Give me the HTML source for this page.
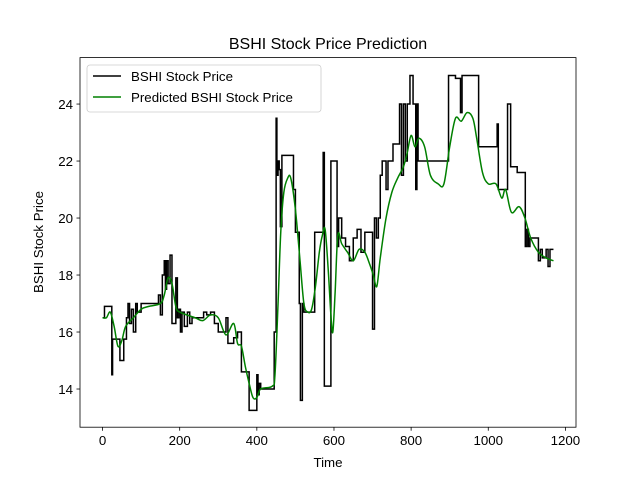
<!DOCTYPE html>
<html><head><meta charset="utf-8">
<style>
html,body{margin:0;padding:0;background:#fff;}
svg{display:block;font-family:"Liberation Sans","DejaVu Sans",sans-serif;}
</style></head>
<body>
<svg id="chart" width="640" height="480" viewBox="0 0 640 480" style="position:absolute;left:0;top:0">
<rect width="640" height="480" fill="#fff"/>
<g id="plot"></g>
</svg>
<script>
const actualTimes=[0,5,24,26,28,45,55,62,66,70,75,80,86,90,100,140,145,150,155,160,163,166,170,175,180,190,194,198,202,206,212,220,226,232,250,262,270,280,290,300,310,320,325,340,350,360,380,400,403,406,410,440,445,450,452,455,458,461,465,490,495,500,510,513,518,522,550,572,575,592,608,612,620,630,640,650,660,670,680,700,705,710,715,720,725,735,740,753,770,775,780,785,790,797,805,812,815,818,840,897,915,928,932,940,975,1023,1026,1050,1058,1075,1096,1100,1104,1108,1110,1130,1135,1140,1150,1155,1160,1169];
const actualValues=[16.5,16.9,14.5,15.75,15.75,15.0,15.75,16.5,17.0,16.3,16.8,16.0,17.0,16.7,17.0,17.0,17.3,16.6,18.0,18.5,17.5,18.5,17.7,18.7,16.3,17.9,16.5,16.8,16.0,16.7,16.2,16.7,16.3,16.5,16.5,16.7,16.6,16.7,16.3,16.0,16.0,16.5,15.6,15.8,16.0,14.6,13.25,14.5,13.8,14.2,14.0,14.0,16.0,23.5,21.5,22.0,21.7,19.7,22.2,22.2,21.0,19.5,17.0,13.6,17.0,16.7,19.5,22.3,14.1,22.0,19.0,20.0,19.3,19.0,18.5,19.3,19.6,18.8,19.5,16.1,20.0,19.3,20.0,21.5,22.0,21.0,22.0,22.6,24.0,21.5,24.0,22.0,24.0,25.0,24.0,21.0,24.0,22.0,22.0,25.0,24.9,23.7,25.0,25.0,22.5,23.3,21.0,24.0,21.8,21.6,19.0,19.6,19.0,19.3,19.3,18.5,18.9,18.6,18.9,18.3,18.9,18.9];
const predTimes=[0,10,20,30,40,50,60,80,100,120,150,160,170,180,190,200,240,260,280,300,320,340,350,360,370,380,390,400,410,440,447,455,462,470,480,488,500,512,522,532,542,552,562,570,577,585,592,597,603,610,620,635,650,665,680,692,702,711,720,735,750,765,780,790,800,810,820,835,850,870,885,900,915,930,945,960,970,985,1000,1020,1035,1045,1060,1080,1095,1110,1130,1150,1169];
const predValues=[16.5,16.5,16.7,16.2,15.5,15.7,16.2,16.5,16.8,16.9,17.0,17.3,17.9,17.7,16.9,16.7,16.5,16.4,16.6,16.5,15.9,16.3,15.6,15.5,14.8,14.2,13.7,13.7,14.0,14.1,14.5,17.0,19.5,20.9,21.4,21.4,20.3,18.5,17.0,16.7,16.8,17.6,18.8,19.4,19.6,18.2,16.6,16.0,17.4,19.4,19.1,18.8,18.5,18.9,18.8,18.4,18.0,17.6,18.6,20.0,20.9,21.4,21.8,22.3,22.9,22.5,22.8,22.5,21.5,21.2,21.2,22.5,23.5,23.4,23.7,23.5,22.8,21.6,21.2,21.2,20.7,21.0,20.2,20.4,20.0,19.3,18.8,18.6,18.5];
const xTicks=[0,200,400,600,800,1000,1200];
const yTicks=[14,16,18,20,22,24];

const L=80,R=576,T=57.6,B=427.2;
const xMin=-58.45,xMax=1227.45,yMin=12.66,yMax=25.63;
const xs=t=>L+(t-xMin)/(xMax-xMin)*(R-L);
const ys=v=>B-(v-yMin)/(yMax-yMin)*(B-T);
const NS="http://www.w3.org/2000/svg";
const g=document.getElementById('plot');
function mk(tag,attrs,parent){const e=document.createElementNS(NS,tag);for(const k in attrs)e.setAttribute(k,attrs[k]);(parent||g).appendChild(e);return e;}

let d="";
for(let i=0;i<actualTimes.length;i++){
  const x=xs(actualTimes[i]),y=ys(actualValues[i]);
  if(i===0)d+="M"+x+","+y;else{d+="L"+x+","+ys(actualValues[i-1])+"L"+x+","+y;}
}
const a=mk('path',{d:d,fill:'none',stroke:'#000','stroke-width':1.5});



// smooth predicted line (Catmull-Rom)
const P=predTimes.map((t,i)=>[xs(t),ys(predValues[i])]);
let d2="M"+P[0][0]+","+P[0][1];
for(let i=0;i<P.length-1;i++){
  const p0=P[Math.max(0,i-1)],p1=P[i],p2=P[i+1],p3=P[Math.min(P.length-1,i+2)];
  const c1=[p1[0]+(p2[0]-p0[0])/6,p1[1]+(p2[1]-p0[1])/6];
  const c2=[p2[0]-(p3[0]-p1[0])/6,p2[1]-(p3[1]-p1[1])/6];
  d2+="C"+c1[0]+","+c1[1]+" "+c2[0]+","+c2[1]+" "+p2[0]+","+p2[1];
}
const p=mk('path',{d:d2,fill:'none',stroke:'#008000','stroke-width':1.5,'stroke-linejoin':'round'});



const frame=mk('rect',{x:L,y:T,width:R-L,height:B-T,fill:'none',stroke:'#000','stroke-width':0.8});



xTicks.forEach(t=>{
  const x=xs(t);
  mk('line',{x1:x,x2:x,y1:B,y2:B+3.5,stroke:'#000','stroke-width':0.8});
  const tx=mk('text',{x:x,y:B+18,'text-anchor':'middle','font-size':13.3});
  tx.textContent=t;
  
  
});
yTicks.forEach(v=>{
  const y=ys(v);
  mk('line',{x1:L-3.5,x2:L,y1:y,y2:y,stroke:'#000','stroke-width':0.8});
  const tx=mk('text',{x:L-7,y:y+5,'text-anchor':'end','font-size':13.3});
  tx.textContent=v;
  
  
});
</script>
<div style="position:absolute;left:0;top:0;width:640px;height:480px;pointer-events:none">
<svg width="640" height="480" style="font-family:'Liberation Sans','DejaVu Sans',sans-serif">
<text x="328" y="49" text-anchor="middle" font-size="16">BSHI Stock Price Prediction</text>
<text x="328" y="467" text-anchor="middle" font-size="13.3">Time</text>
<text transform="translate(43,242) rotate(-90)" text-anchor="middle" font-size="13.3">BSHI Stock Price</text>
<g>
<rect x="87" y="65" width="234" height="47" rx="3" fill="#fff" fill-opacity="0.8" stroke="#ccc" stroke-width="0.8"/>
<line x1="93" x2="121" y1="76" y2="76" stroke="#000" stroke-width="1.5"/>
<text x="131" y="81" font-size="13.3">BSHI Stock Price</text>
<line x1="93" x2="121" y1="97" y2="97" stroke="#008000" stroke-width="1.5"/>
<text x="131" y="102" font-size="13.3">Predicted BSHI Stock Price</text>
</g>
</svg>
</div>
</body></html>
